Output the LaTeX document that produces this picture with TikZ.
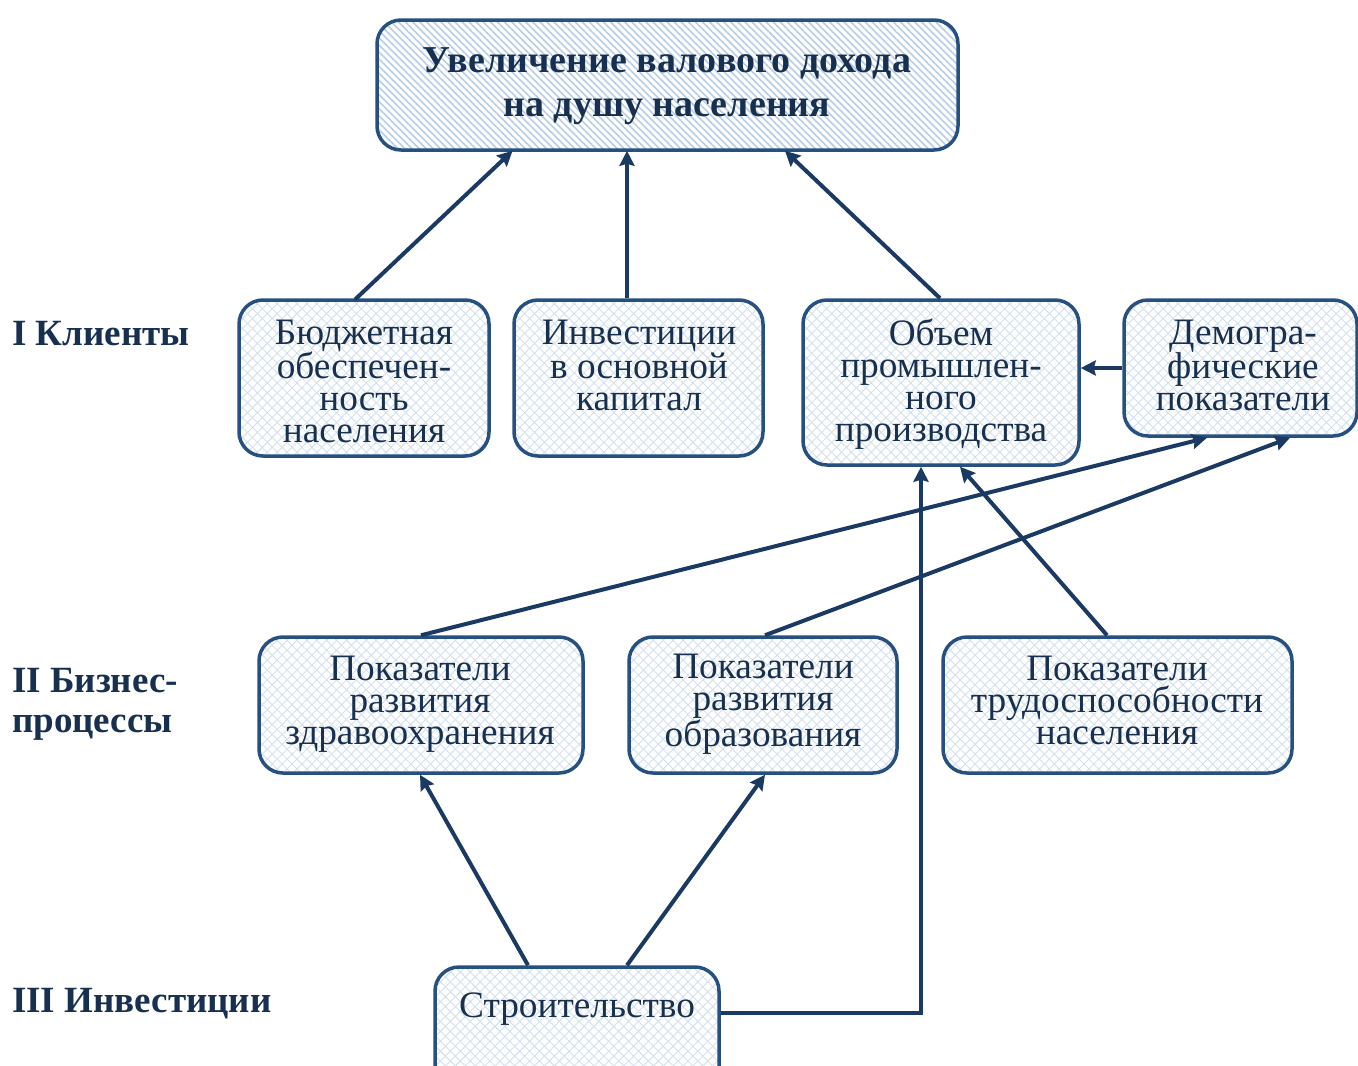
\documentclass[tikz,border=0pt]{standalone}
\usepackage{fontspec}
\setmainfont{Liberation Serif}
\usetikzlibrary{arrows.meta,patterns.meta}
\definecolor{bordc}{HTML}{25507F}
\definecolor{txtc}{HTML}{17304F}
\definecolor{arrc}{HTML}{1B3A63}
\definecolor{hatchc}{HTML}{D3E0F0}
\definecolor{stripec}{HTML}{B9CDE8}
\newcommand\topst{\rule{0pt}{28pt}}
\newcommand\botst{\rule[-9pt]{0pt}{9pt}}
\tikzset{
  box/.style={draw=bordc, line width=3.5pt, rounded corners=24pt,
    preaction={fill=white},
    pattern={Hatch[angle=45,distance=7pt,line width=0.9pt]}, pattern color=hatchc,
    inner sep=0pt},
  topbox/.style={draw=bordc, line width=3.5pt, rounded corners=24pt,
    preaction={fill=white},
    pattern={Lines[angle=-45,distance=5pt,line width=1.6pt]}, pattern color=stripec,
    inner sep=0pt},
  lbl/.style={text=txtc, align=center, font=\fontsize{37.3}{32}\selectfont, inner sep=0pt},
  toplbl/.style={text=txtc, align=center, font=\fontsize{38}{44}\selectfont\bfseries, inner sep=0pt},
  sidelbl/.style={text=txtc, align=left, anchor=west, font=\fontsize{37}{40}\selectfont\bfseries, inner sep=0pt},
  arr/.style={draw=arrc, line width=4pt, -{Stealth[length=15pt,width=15pt,inset=2pt]}},
}
\begin{document}
\begin{tikzpicture}[x=1pt,y=-1pt]
\path[use as bounding box, clip] (0,0) rectangle (1358,1066);

% boxes
\node[topbox, minimum width=581pt, minimum height=130pt] (top) at (667.5,85) {};
\node[box, minimum width=250pt, minimum height=156pt] (b1) at (364,378) {};
\node[box, minimum width=249pt, minimum height=156pt] (b2) at (638.5,378) {};
\node[box, minimum width=276pt, minimum height=165pt] (b3) at (941,382.5) {};
\node[box, minimum width=233pt, minimum height=136pt] (b4) at (1240.5,368) {};
\node[box, minimum width=324pt, minimum height=136pt] (c1) at (421,705) {};
\node[box, minimum width=268pt, minimum height=136pt] (c2) at (763,705) {};
\node[box, minimum width=349pt, minimum height=136pt] (c3) at (1117.5,705) {};
\node[box, minimum width=284pt, minimum height=140pt] (d1) at (577,1037) {};

% texts
\node[toplbl] (t0) at (667,85) {\topst Увеличение валового дохода\\на душу населения\botst};
\node[lbl] (t1) at (364,384) {\topst Бюджетная\\обеспечен-\\ность\\населения\botst};
\node[lbl] (t2) at (639,368) {\topst Инвестиции\\в основной\\капитал\botst};
\node[lbl] (t3) at (941,384) {\topst Объем\\промышлен-\\ного\\производства\botst};
\node[lbl] (t4) at (1243,368) {\topst Демогра-\\фические\\показатели\botst};
\node[lbl] (t5) at (420,703) {\topst Показатели\\развития\\здравоохранения\botst};
\node[lbl] (t6) at (763,703) {\topst Показатели\\развития\\образования\botst};
\node[lbl] (t7) at (1117,703) {\topst Показатели\\трудоспособности\\населения\botst};
\node[lbl] (t8) at (577,1008) {\topst Строительство\botst};

\node[sidelbl] (s1) at (12,336) {\topst I Клиенты\botst};
\node[sidelbl] (s2) at (12,703) {\topst II Бизнес-\\процессы\botst};
\node[sidelbl] (s3) at (12,1003) {\topst III Инвестиции\botst};

% connectors
\draw[arr] ([xshift=-9pt]b1.north) -- ([xshift=-155pt]top.south);
\draw[arr] ([xshift=-11.5pt]b2.north) -- ([xshift=-40.5pt]top.south);
\draw[arr] ([xshift=-1pt]b3.north) -- ([xshift=117.5pt]top.south);
\draw[arr] (b4.west) -- (b4.west -| b3.east);
\draw[arr] (c1.north) -- ([xshift=-33.5pt]b4.south);
\draw[arr] ([xshift=2pt]c2.north) -- ([xshift=49.5pt]b4.south);
\draw[arr] ([xshift=-10.5pt]c3.north) -- ([xshift=19pt]b3.south);
\draw[arr, rounded corners=0pt] ([yshift=24pt]d1.east) -| ([xshift=-20pt]b3.south);
\draw[arr] ([xshift=-49pt]d1.north) -- ([xshift=-1pt]c1.south);
\draw[arr] ([xshift=50pt]d1.north) -- ([xshift=2pt]c2.south);
\end{tikzpicture}
\end{document}
